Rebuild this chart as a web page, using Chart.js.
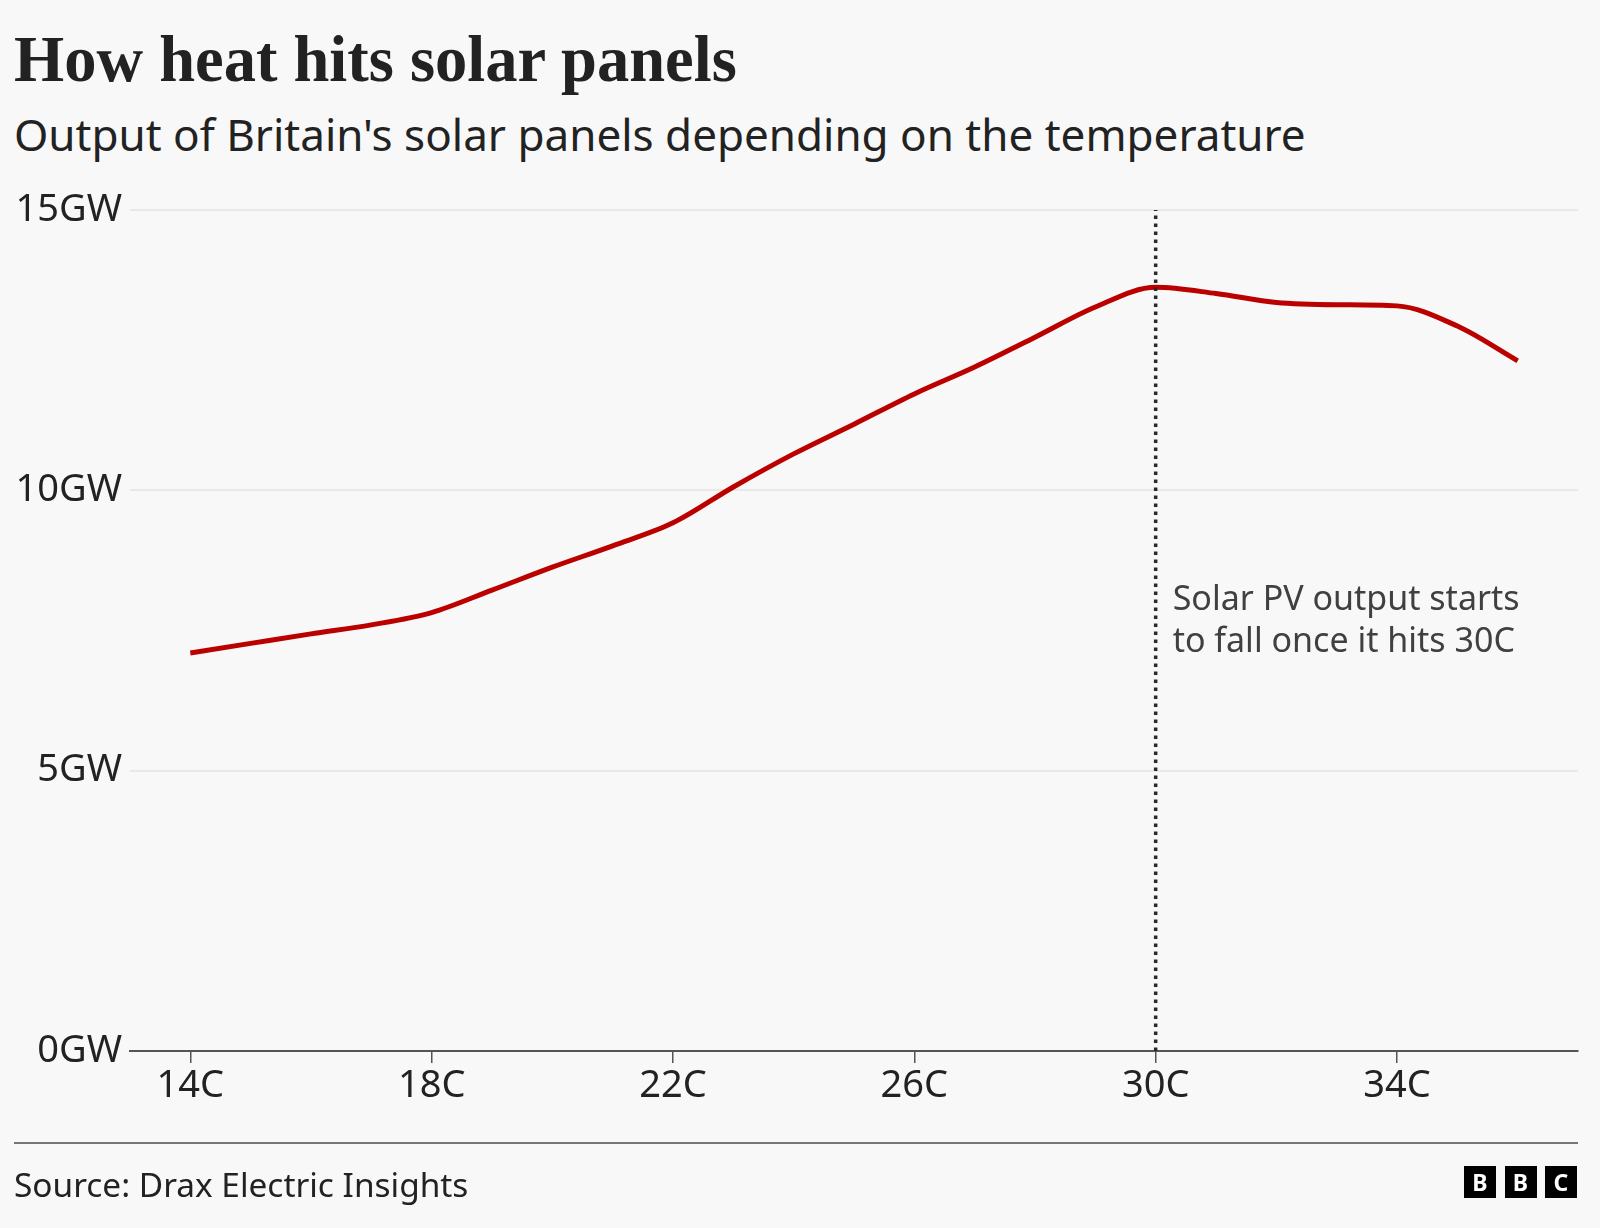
<!DOCTYPE html>
<html>
<head>
<meta charset="utf-8">
<script src="https://cdn.jsdelivr.net/npm/chart.js@4.4.1/dist/chart.umd.min.js"></script>
<style>
  html, body { margin: 0; padding: 0; background: #f8f8f8; }
  body { width: 1600px; height: 1228px; position: relative; overflow: hidden; font-family: "Noto Sans", sans-serif; color: #222; }
  #title { position: absolute; left: 14px; top: 28px; font: bold 64.5px/64.5px "Liberation Serif", serif; white-space: nowrap; }
  #subtitle { position: absolute; left: 14px; top: 112px; font: 44px/44px "Noto Sans", sans-serif; white-space: nowrap; }
  #chart { position: absolute; left: 0; top: 0; }
  #rule { position: absolute; left: 14px; top: 1142px; width: 1564px; height: 2px; background: #777; }
  #source { position: absolute; left: 14px; top: 1168px; font: 33.4px/33.4px "Noto Sans", sans-serif; white-space: nowrap; }
  #logo { position: absolute; left: 1464px; top: 1166px; display: flex; gap: 8.5px; }
  #logo span { width: 32px; height: 32px; background: #000; color: #fff; font: bold 23px/32px "Noto Sans", sans-serif; text-align: center; }
</style>
</head>
<body>
<div id="title">How heat hits solar panels</div>
<div id="subtitle">Output of Britain's solar panels depending on the temperature</div>
<canvas id="chart" width="1600" height="1228"></canvas>
<div id="rule"></div>
<div id="source">Source: Drax Electric Insights</div>
<div id="logo"><span>B</span><span>B</span><span>C</span></div>
<script>
// temperature (C) and solar output (GW)
const temps = [14, 15, 16, 17, 18, 19, 20, 21, 22, 23, 24, 25, 26, 27, 28, 29, 30, 31, 32, 33, 34, 35, 36];
const output = [7.10, 7.27, 7.44, 7.60, 7.82, 8.22, 8.63, 9.01, 9.42, 10.06, 10.65, 11.18, 11.72, 12.20, 12.73, 13.27, 13.62, 13.51, 13.35, 13.31, 13.29, 12.93, 12.31];
const xTicks = [14, 18, 22, 26, 30, 34];
const yTicks = [0, 5, 10, 15];
const markerTemp = 30;
const noteLines = ['Solar PV output starts', 'to fall once it hits 30C'];
const noteAt = { x: 30, y: 7.86 };

const notePlugin = {
    id: 'note',
    afterDatasetsDraw(chart) {
        const { ctx, scales: { x, y } } = chart;
        ctx.save();
        ctx.font = '34px "Noto Sans"';
        ctx.fillStyle = '#404040';
        ctx.textBaseline = 'alphabetic';
        const px = x.getPixelForValue(noteAt.x) + 17;
        const py = y.getPixelForValue(noteAt.y);
        noteLines.forEach((t, i) => ctx.fillText(t, px, py + i * 42));
        ctx.restore();
    }
};

const ctx = document.getElementById('chart').getContext('2d');
const chart = new Chart(ctx, {
    type: 'line',
    data: {
        datasets: [{
            // dotted marker at 30C
            data: [{ x: markerTemp, y: yTicks[0] }, { x: markerTemp, y: yTicks[yTicks.length - 1] }],
            borderColor: '#2a2a2a',
            borderWidth: 3.5,
            borderDash: [3.5, 4.5],
            pointRadius: 0,
            order: 0
        }, {
            data: temps.map((t, i) => ({ x: t, y: output[i] })),
            borderColor: '#bb0000',
            borderWidth: 5,
            pointRadius: 0,
            cubicInterpolationMode: 'monotone',
            order: 1
        }]
    },
    options: {
        responsive: false,
        animation: false,
        devicePixelRatio: 1,
        layout: { padding: { left: 0, right: 22, top: 210, bottom: 117 } },
        plugins: {
            legend: { display: false },
            tooltip: { enabled: false }
        },
        scales: {
            x: {
                type: 'linear',
                min: 13,
                max: 37,
                afterBuildTicks: (s) => { s.ticks = xTicks.map(v => ({ value: v })); },
                afterFit: (s) => { s.height = 60; },
                grid: { drawOnChartArea: false, drawTicks: true, tickLength: 12, color: '#555', lineWidth: 1.5 },
                border: { display: true, color: '#555', width: 2 },
                ticks: {
                    padding: 0,
                    color: '#222',
                    font: { family: 'Noto Sans', size: 38 },
                    maxRotation: 0,
                    callback: (v) => v + 'C'
                }
            },
            y: {
                min: 0,
                max: 15,
                afterBuildTicks: (s) => { s.ticks = yTicks.map(v => ({ value: v })); },
                afterFit: (s) => { s.width = 130; },
                grid: { drawTicks: false, color: '#e9e9e9', lineWidth: 2 },
                border: { display: false },
                ticks: {
                    padding: 8,
                    color: '#222',
                    font: { family: 'Noto Sans', size: 38 },
                    callback: (v) => v + 'GW'
                }
            }
        }
    },
    plugins: [notePlugin]
});
</script>
</body>
</html>
